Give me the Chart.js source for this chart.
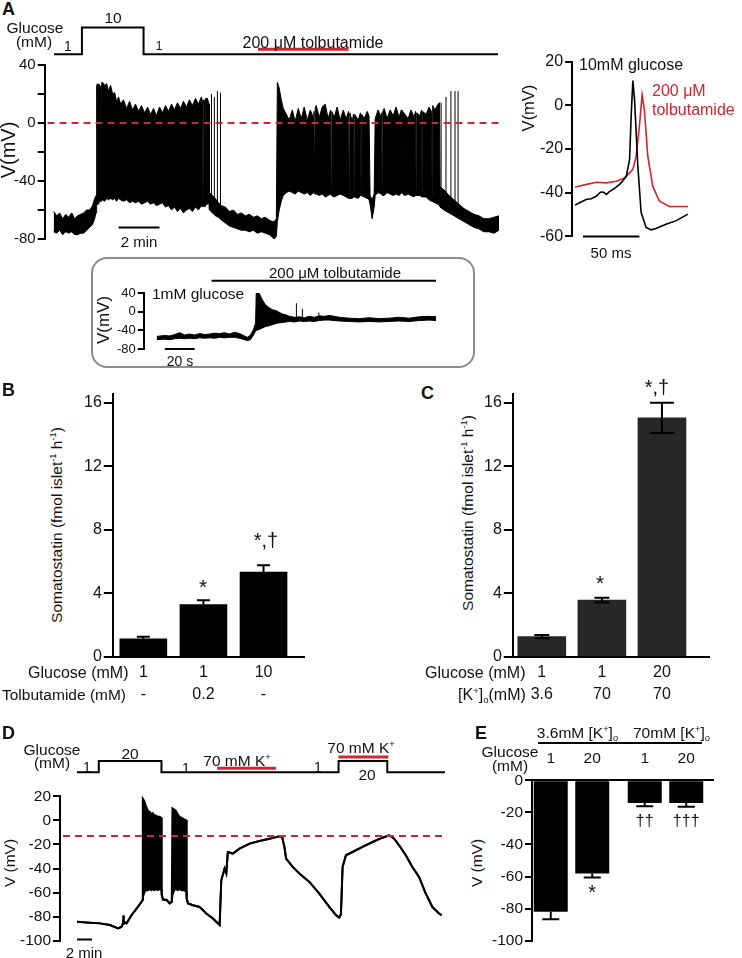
<!DOCTYPE html>
<html><head><meta charset="utf-8">
<script src="https://cdn.jsdelivr.net/npm/chart.js@4.4.1/dist/chart.umd.min.js"></script>
<style>
html,body{margin:0;padding:0;background:#fff;}
body{width:742px;height:958px;position:relative;overflow:hidden;font-family:"Liberation Sans",Arial,sans-serif;color:#111;}
canvas{position:absolute;}
.t{position:absolute;white-space:nowrap;line-height:1;}
sup,sub{font-size:0.6em;line-height:0;position:relative;vertical-align:baseline;}
sup{top:-0.6em;} sub{top:0.3em;}
#box{position:absolute;left:91px;top:257px;width:380px;height:107px;border:2px solid #8c8c8c;border-radius:16px;}
#eline{position:absolute;left:538px;top:742px;width:164px;height:2px;background:#000;}
</style></head><body>
<div id="box"></div>
<div id="eline"></div>
<script>
// ===================== DATA =====================
// Panel A – glucose protocol (time in min, glucose in mM) and tolbutamide application
const A_GLU_T = [0, 1.37, 4.39, 21.76];
const A_GLU_V = [1, 10, 1, 1];
const A_TOLB = [[10.0, 14.44]];
// Panel A – membrane potential envelope (min, mV)
const A_T = [0.00,0.15,0.29,0.44,0.59,0.73,0.88,1.02,1.17,1.32,1.46,1.61,1.76,1.90,2.00,2.07,
 2.10,2.13,2.15,2.17,2.20,2.29,2.32,2.34,2.36,2.39,2.49,2.59,2.68,2.78,2.88,2.98,3.07,3.17,3.27,3.41,3.56,3.71,3.85,4.00,4.15,4.29,4.44,4.59,4.73,4.88,5.02,5.17,5.32,5.46,5.61,5.76,5.90,6.05,6.20,6.34,6.49,6.63,6.78,6.93,7.07,7.22,7.27,7.30,7.33,7.37,7.43,7.45,7.47,7.51,7.59,
 7.61,7.76,7.90,8.05,8.20,8.39,8.59,8.78,8.98,9.17,9.37,9.56,9.76,9.95,10.15,10.34,10.54,10.68,10.78,10.88,
 10.93,11.02,11.12,11.22,11.37,11.51,11.66,11.80,11.95,12.10,12.24,12.39,12.54,12.68,12.72,12.75,12.78,12.83,12.98,13.12,13.27,13.41,13.53,13.56,13.59,13.71,13.85,14.00,14.15,14.29,14.41,14.44,14.47,14.59,14.65,14.68,14.71,14.88,14.99,15.02,15.05,15.17,15.32,15.41,
 15.46,15.56,15.66,
 15.71,15.85,16.00,16.02,16.05,16.08,16.15,16.29,16.44,16.59,16.73,16.88,16.99,17.02,17.05,17.17,17.32,17.46,17.61,17.68,17.71,17.74,17.90,17.97,18.00,18.03,18.20,18.34,18.46,18.49,18.52,18.63,18.78,18.85,
 18.88,19.07,19.32,19.56,19.80,20.05,20.29,20.54,20.78,21.02,21.27,21.51,21.76];
const A_HI = [-61,-64,-62,-66,-63,-65,-62,-66,-64,-63,-62,-60,-60,-57,-52,-50,
 25,27,-52,24,27,24,26,-50,28,28,26,27,22,26,20,21,15,18,13,16,10,15,9,13,8,12,7,11,6,10,5,11,7,12,8,13,9,14,10,15,11,16,12,17,13,18,15,-53,16,15,17,-52,17,17,13,
 -48,-50,-52,-55,-57,-58,-61,-60,-63,-62,-64,-63,-65,-64,-66,-65,-67,-68,-68,-66,
 28,24,16,10,6,2,9,1,10,3,11,2,9,4,8,-45,10,12,4,11,13,3,9,-46,8,4,11,2,9,3,8,-48,7,1,6,-47,6,2,7,-46,6,3,8,5,
 -50,-53,-49,
 3,9,4,7,-45,8,10,3,9,5,11,4,9,-44,8,6,3,9,4,8,-46,7,5,9,-47,8,6,11,8,-50,12,9,13,14,
 -44,-46,-50,-53,-56,-59,-61,-63,-64,-66,-66,-65,-64];
const A_LO = [-75,-76,-74,-77,-75,-76,-75,-77,-77,-76,-76,-74,-72,-70,-66,-62,
 -57,-56,-56,-56,-55,-54,-54,-54,-53,-53,-54,-52,-53,-52,-53,-52,-54,-52,-53,-54,-53,-55,-54,-55,-54,-56,-55,-54,-56,-55,-57,-56,-55,-58,-57,-60,-58,-61,-59,-62,-60,-59,-61,-58,-60,-57,-58,-57,-57,-58,-57,-56,-56,-56,-55,
 -60,-62,-64,-65,-67,-69,-71,-72,-73,-74,-74,-75,-74,-76,-75,-76,-77,-79,-80,-78,
 -68,-60,-54,-50,-48,-47,-48,-49,-47,-48,-49,-48,-50,-48,-48,-49,-49,-49,-50,-49,-51,-50,-49,-50,-50,-51,-50,-49,-50,-51,-52,-52,-52,-52,-51,-51,-51,-52,-50,-50,-50,-51,-52,-53,
 -56,-66,-58,
 -50,-48,-49,-49,-49,-50,-50,-48,-49,-50,-49,-50,-48,-48,-49,-50,-49,-50,-51,-50,-50,-50,-50,-51,-51,-51,-51,-53,-54,-54,-54,-55,-56,-57,
 -58,-60,-62,-64,-66,-68,-70,-72,-73,-75,-75,-76,-74];
const A_SPK_T = [7.71,7.85,8.00,8.15,18.93,19.17,19.41,19.61,19.76];
const A_SPK_V = [20,18,22,21,14,18,22,22,22];
const A_SPK_B = [-58,-60,-62,-63,-56,-58,-60,-62,-63];
const A_BAR = [3.17, 5.17];   // 2 min scale bar

// Panel A inset – single action potentials (ms, mV)
const S_T_BLK = [2.6,7,12.9,17,21.6,25,27.5,30.4,33,36.3,39,42.1,45,48,50.9,52.3,53.8,55.3,58.2,61.1,65.5,69.9,74.3,83.1,91.8,102.6];
const S_V_BLK = [-45.7,-44.5,-43,-42.8,-41.5,-39.8,-39.7,-40.8,-39.5,-38.5,-37.5,-36.2,-34.5,-32.4,-24.8,-5,11.3,2.5,-27.8,-49,-55.9,-57,-56.4,-54.4,-52.9,-49.8];
const S_T_RED = [2.6,12.9,21.6,30.4,39.2,46.5,53.8,56.7,59.6,62,64,67,71.4,77.2,86,102.6];
const S_V_RED = [-37.4,-36.2,-35.2,-35.5,-34.8,-33.3,-29.3,-23.3,-9.6,4.8,-2,-23.3,-37,-43.8,-46.3,-46.3];
const S_BAR = [9.6, 59.6];    // 50 ms scale bar

// Panel A box – 1 mM glucose + tolbutamide (s, mV)
const X_T = [8.7,14,17.3,20.7,24,27.3,30.7,34,37.3,40.7,44,47.3,50.7,54,57.3,60.7,64,67.3,69.3,71.3,73.3,74.7,75.3,77.3,79.3,81.3,84,86,88.7,90.7,92.7,95.3,97.3,100.7,104,107.3,110.7,114,117.3,120.7,124,130.7,137.3,144,150.7,157.3,164,170.7,177.3,184,190.7,195.3];
const X_HI = [-53,-51,-52,-49,-45,-50,-48,-50,-47,-49,-48,-46,-47,-45,-48,-44,-47,-52,-55,-50,-38,-25,60,38,25,15,8,4,2,-2,-5,-7,-10,-12,-11,-13,-10,-12,-9,-10,-8,-12,-14,-15,-13,-15,-14,-12,-14,-11,-10,-11];
const X_LO = [-60,-59,-60,-58,-57,-58,-57,-58,-56,-57,-56,-57,-55,-56,-55,-55,-57,-60,-62,-60,-50,-42,-40,-38,-35,-32,-30,-28,-25,-24,-23,-22,-21,-22,-20,-21,-20,-21,-19,-18,-18,-20,-21,-22,-21,-22,-21,-20,-21,-19,-18,-19];
const X_SPK_T = [102, 106, 117];
const X_SPK_V = [18, 6, -2];
const X_SPK_B = [-20, -20, -19];
const X_TOLB = [45.3, 195.3];
const X_BAR = [14, 34];       // 20 s scale bar

// Panel B – somatostatin secretion
const B_GLU = ['1','1','10'];
const B_TOL = ['-','0.2','-'];
const B_VAL = [1.15, 3.3, 5.35];
const B_ERR = [0.12, 0.27, 0.42];
// Panel C
const C_GLU = ['1','1','20'];
const C_K = ['3.6','70','70'];
const C_VAL = [1.28, 3.58, 15.05];
const C_ERR = [0.1, 0.15, 0.95];

// Panel D – glucose protocol, 70 mM K+ application, membrane potential (min, mV)
const D_GLU_T = [0, 2.93, 11.33, 35.07, 41.6, 49.33];
const D_GLU_V = [1, 20, 1, 20, 1, 1];
const D_K = [[18.8, 26.67], [35.07, 41.73]];
const D_T = [0,1.73,3.07,4.4,5.51,5.96,6.13,6.2,6.27,6.63,7.29,7.96,8.63,8.78,8.8,9.0,9.2,9.47,9.73,9.93,10.13,10.33,10.53,10.8,11.07,11.29,11.33,11.51,11.96,12.4,12.67,12.76,13.0,13.2,13.47,13.73,14.0,14.27,14.6,14.67,14.84,15.51,16.4,17.29,18.17,19.07,19.29,19.73,19.96,20.17,20.84,21.73,23.07,24.4,25.73,27.07,27.43,27.73,27.96,28.84,29.73,31.07,32.4,33.73,34.63,35.07,35.29,35.51,35.96,36.84,38.17,39.51,40.84,41.73,42.4,43.07,43.96,44.84,45.73,46.63,47.51,48.4,48.76];
const D_HI = [-84.3,-85,-85.6,-87,-89.8,-88.4,-86,-79,-84,-85.6,-78.8,-73.3,-67.7,-66,18,16,12,8,7,5,6,4,4,3,3,2,-62,-66,-66,-69,-67.7,10,9,8,5,3,2,1,0,-65,-69,-70.5,-72,-77.4,-81.5,-87,-49.8,-40,-44,-26.3,-27.6,-23.5,-19.3,-17.1,-15.2,-13.3,-13.8,-22,-31.8,-38.7,-44.2,-51.1,-60.8,-71.9,-78.8,-80.7,-78,-38.7,-29,-26.3,-22,-18,-14.4,-12.4,-15.2,-20.7,-29,-38.7,-47,-60.8,-71.9,-77.4,-78.8];
const D_LO = [-84.3,-85,-85.6,-87,-89.8,-88.4,-86,-86,-84,-85.6,-78.8,-73.3,-67.7,-66,-64,-60,-58,-58,-57,-58,-57,-58,-57,-58,-57,-58,-62,-66,-66,-69,-67.7,-62,-58,-57,-58,-57,-58,-58,-59,-65,-69,-70.5,-72,-77.4,-81.5,-87,-49.8,-40,-44,-26.3,-27.6,-23.5,-19.3,-17.1,-15.2,-13.3,-13.8,-22,-31.8,-38.7,-44.2,-51.1,-60.8,-71.9,-78.8,-80.7,-78,-38.7,-29,-26.3,-22,-18,-14.4,-12.4,-15.2,-20.7,-29,-38.7,-47,-60.8,-71.9,-77.4,-78.8];
const D_BAR = [0, 2];         // 2 min scale bar
const D_REF = -13;            // dashed reference level (mV)

// Panel E – membrane potential summary
const E_GROUPS = ['3.6mM [K<sup>+</sup>]<sub>o</sub>', '70mM [K<sup>+</sup>]<sub>o</sub>'];
const E_GLU = ['1', '20'];
const E_G1 = [-82, -14.1];
const E_G1_ERR = [4.6, 2.1];
const E_G20 = [-58.1, -14.1];
const E_G20_ERR = [2.5, 2.4];
const E_SIG = [['', '††'], ['*', '†††']];

// ===================== HELPERS =====================
const RED = '#d0262d';
Chart.defaults.font.family = '"Liberation Sans", Arial, sans-serif';
Chart.defaults.color = '#000';

function mount(area, cfg) {
  const c = document.createElement('canvas');
  const w0 = Math.round(area.r - area.l + 120), h0 = Math.round(area.b - area.t + 120);
  c.width = w0; c.height = h0; c.style.width = w0 + 'px'; c.style.height = h0 + 'px';
  c.style.left = '0px'; c.style.top = '0px';
  document.body.appendChild(c);
  cfg.options = Object.assign({responsive:false, maintainAspectRatio:false, animation:false, devicePixelRatio:1, events:[],
    elements:{point:{radius:0}, line:{tension:0}}}, cfg.options || {});
  cfg.options.plugins = Object.assign({legend:{display:false}, tooltip:{enabled:false}}, cfg.options.plugins || {});
  const ch = new Chart(c, cfg);
  let ca = ch.chartArea;
  const W = Math.round(area.r - area.l + ca.left + (w0 - ca.right));
  const H = Math.round(area.b - area.t + ca.top + (h0 - ca.bottom));
  ch.resize(W, H);
  ca = ch.chartArea;
  const ox = area.l - ca.left, oy = area.t - ca.top;
  c.style.left = ox + 'px'; c.style.top = oy + 'px';
  ch._off = {x: ox, y: oy};
  return ch;
}
const pts = (T, V) => T.map((t, i) => ({x: t, y: V[i]}));
function band(T, HI, LO, w) {
  return [
    {data: pts(T, HI), borderColor:'#000', borderWidth:w, backgroundColor:'#000', fill:'+1', pointRadius:0},
    {data: pts(T, LO), borderColor:'#000', borderWidth:w, fill:false, pointRadius:0}
  ];
}
function spikes(T, V, B, w) {
  const d = [];
  T.forEach((t, i) => { d.push({x:t, y:B[i]}, {x:t, y:V[i]}, {x:t, y:null}); });
  return {data:d, borderColor:'#000', borderWidth:w, fill:false, pointRadius:0, spanGaps:false};
}
function hbar(range, level, color, w) {
  return {data:[{x:range[0], y:level}, {x:range[1], y:level}], borderColor:color, borderWidth:w, pointRadius:0, fill:false, clip:false};
}
function hidden(min, max) { return {type:'linear', min, max, display:false}; }
function yAx(min, max, ticks, o = {}) {
  return {type:'linear', min, max,
    afterBuildTicks: s => { s.ticks = ticks.map(v => ({value:v})); },
    grid:{drawOnChartArea:false, drawTicks:true, tickLength:o.tl || 7, color:'#000', lineWidth:2},
    border:{display:true, color:'#000', width:2},
    ticks:{padding:o.pad ?? 2, color:'#111', font:{size:o.fs || 15}, autoSkip:false,
      callback: v => (o.every && (v % o.every) !== 0) ? '' : String(v)}};
}
function xBar(min, max, ticks, cb, pos) {
  return {type:'linear', min, max, offset:false, position:pos || 'bottom',
    afterBuildTicks: s => { s.ticks = ticks.map(v => ({value:v})); },
    grid:{display:false, drawTicks:false},
    border:{display:true, color:'#000', width:2},
    ticks:{display:!!cb, autoSkip:false, maxRotation:0, minRotation:0, padding:5, color:'#111',
      font:{size:16, lineHeight:1.375}, callback: cb || (() => '')}};
}
function expo(bars, T, V, color, width, offset) {
  return {id:'expo', afterDatasetsDraw(chart) {
    const ctx = chart.ctx, xs = chart.scales.x, ys = chart.scales.y;
    ctx.save(); ctx.strokeStyle = color; ctx.lineWidth = width;
    bars.forEach(([a, b]) => {
      const mid = (a + b) / 2; let lvl = V[0];
      for (let i = 0; i < T.length; i++) if (T[i] <= mid) lvl = V[i];
      const y = ys.getPixelForValue(lvl) - offset;
      ctx.beginPath(); ctx.moveTo(xs.getPixelForValue(a), y); ctx.lineTo(xs.getPixelForValue(b), y); ctx.stroke();
    });
    ctx.restore();
  }};
}
function errb(sets, caps, width) {
  return {id:'errb', afterDatasetsDraw(chart) {
    const ctx = chart.ctx, ys = chart.scales.y;
    ctx.save(); ctx.strokeStyle = '#000'; ctx.lineWidth = width;
    sets.forEach(s => {
      const meta = chart.getDatasetMeta(s.ds), data = chart.data.datasets[s.ds].data;
      meta.data.forEach((el, i) => {
        const v = data[i].y, e = s.err[i], x = el.x, h = caps[i] / 2;
        const ends = s.both ? [v - e, v + e] : [v, v + Math.sign(v) * e];
        const y0 = ys.getPixelForValue(ends[0]), y1 = ys.getPixelForValue(ends[1]);
        ctx.beginPath(); ctx.moveTo(x, y0); ctx.lineTo(x, y1);
        if (s.both) { ctx.moveTo(x - h, y0); ctx.lineTo(x + h, y0); }
        ctx.moveTo(x - h, y1); ctx.lineTo(x + h, y1); ctx.stroke();
      });
    });
    ctx.restore();
  }};
}
function T(x, y, html, o = {}) {
  const d = document.createElement('div');
  d.className = 't'; d.innerHTML = html;
  d.style.left = x + 'px'; d.style.top = y + 'px';
  d.style.fontSize = (o.fs || 15) + 'px';
  if (o.bold) d.style.fontWeight = 'bold';
  if (o.color) d.style.color = o.color;
  let tr = o.left ? 'translate(0,-50%)' : 'translate(-50%,-50%)';
  if (o.rot) tr += ' rotate(-90deg)';
  d.style.transform = tr;
  document.body.appendChild(d);
}

// ===================== PANEL A =====================
mount({l:45, r:500, t:20, b:60}, {type:'line',
  data:{datasets:[{data:pts(A_GLU_T, A_GLU_V), stepped:true, borderColor:'#000', borderWidth:2, clip:false}]},
  options:{scales:{x:hidden(-0.44, 21.76), y:hidden(-0.29, 12.57)}},
  plugins:[expo(A_TOLB, A_GLU_T, A_GLU_V, RED, 3, 5)]});

mount({l:45, r:500, t:65, b:239}, {type:'line',
  data:{datasets:[
    {data:[{x:-0.3, y:0}, {x:21.76, y:0}], borderColor:RED, borderDash:[7,5], borderWidth:2, fill:false},
    ...band(A_T, A_HI, A_LO, 1),
    spikes(A_SPK_T, A_SPK_V, A_SPK_B, 1),
    hbar(A_BAR, -72, '#000', 2)
  ]},
  options:{scales:{x:hidden(-0.44, 21.76), y:yAx(-80, 40, [-80,-60,-40,-20,0,20,40], {every:40, fs:15})}}});

mount({l:572, r:692, t:62, b:237}, {type:'line',
  data:{datasets:[
    {data:pts(S_T_BLK, S_V_BLK), borderColor:'#000', borderWidth:1.6, fill:false},
    {data:pts(S_T_RED, S_V_RED), borderColor:RED, borderWidth:1.6, fill:false},
    hbar(S_BAR, -60, '#000', 2)
  ]},
  options:{scales:{x:hidden(0, 105.3), y:yAx(-60, 20, [-60,-40,-20,0,20], {fs:16})}}});

mount({l:144, r:440, t:293, b:349}, {type:'line',
  data:{datasets:[
    hbar(X_TOLB, 66, '#000', 2),
    ...band(X_T, X_HI, X_LO, 1),
    spikes(X_SPK_T, X_SPK_V, X_SPK_B, 1),
    hbar(X_BAR, -80, '#000', 2)
  ]},
  options:{layout:{padding:{top:24, bottom:10}},
    scales:{x:hidden(0, 197.3), y:yAx(-80, 40, [-80,-40,0,40], {fs:13, tl:6})}}});

// ===================== PANEL B / C =====================
mount({l:113, r:305, t:393.5, b:657}, {type:'bar',
  data:{datasets:[{data:B_VAL.map((v, i) => ({x:i + 1, y:v})), backgroundColor:'#000', barThickness:47}]},
  options:{scales:{x:xBar(0.492, 3.69, [1,2,3], (v, i) => [B_GLU[i], B_TOL[i]]),
                   y:yAx(0, 16.58, [0,4,8,12,16], {fs:16, tl:9})}},
  plugins:[errb([{ds:0, err:B_ERR}], [13,13,13], 2)]});

mount({l:513, r:710, t:393.5, b:657}, {type:'bar',
  data:{datasets:[{data:C_VAL.map((v, i) => ({x:i + 1, y:v})), backgroundColor:'#272727', barThickness:48}]},
  options:{scales:{x:xBar(0.517, 3.8, [1,2,3], (v, i) => [C_GLU[i], C_K[i]]),
                   y:yAx(0, 16.58, [0,4,8,12,16], {fs:16, tl:9})}},
  plugins:[errb([{ds:0, err:C_ERR, both:true}], [15,15,24], 2)]});

// ===================== PANEL D =====================
mount({l:60, r:448, t:745, b:780}, {type:'line',
  data:{datasets:[{data:pts(D_GLU_T, D_GLU_V), stepped:true, borderColor:'#000', borderWidth:2, clip:false}]},
  options:{scales:{x:hidden(-2.27, 49.47), y:hidden(-8.5, 46.9)}},
  plugins:[expo(D_K, D_GLU_T, D_GLU_V, RED, 3, 4)]});

mount({l:60, r:448, t:796, b:940.7}, {type:'line',
  data:{datasets:[
    {data:[{x:-1.87, y:D_REF}, {x:49.4, y:D_REF}], borderColor:RED, borderDash:[7,5], borderWidth:2, fill:false},
    ...band(D_T, D_HI, D_LO, 2),
    hbar(D_BAR, -99, '#000', 2)
  ]},
  options:{scales:{x:hidden(-2.27, 49.47), y:yAx(-100, 20, [-100,-80,-60,-40,-20,0,20], {fs:15.5})}}});

// ===================== PANEL E =====================
const eCh = mount({l:532, r:714, t:780, b:940.7}, {type:'bar',
  data:{datasets:[
    {data:E_G1.map((v, i) => ({x:i + 1, y:v})), backgroundColor:'#000', categoryPercentage:0.883, barPercentage:0.819},
    {data:E_G20.map((v, i) => ({x:i + 1, y:v})), backgroundColor:'#000', categoryPercentage:0.883, barPercentage:0.819}
  ]},
  options:{scales:{x:xBar(0.58, 2.516, [1,2], null, 'top'), y:yAx(-100, 0, [-100,-80,-60,-40,-20,0], {fs:15.5})}},
  plugins:[errb([{ds:0, err:E_G1_ERR}, {ds:1, err:E_G20_ERR}], [17,17], 2)]});

// ===================== TEXT =====================
// A
T(2, 9, 'A', {left:true, bold:true, fs:18});
T(35, 28, 'Glucose', {fs:15.5}); T(34, 42, '(mM)', {fs:15.5});
T(68, 46, '1', {fs:14}); T(113, 18, '10', {fs:15.5}); T(159, 46, '1', {fs:12});
T(313, 43, '200 μM tolbutamide', {fs:16});
T(8, 150, 'V(mV)', {rot:true, fs:20});
T(139, 241, '2 min', {fs:15});
T(579, 65, '10mM glucose', {left:true, fs:16});
T(652, 91, '200 μM', {left:true, fs:16, color:RED});
T(652, 110, 'tolbutamide', {left:true, fs:16, color:RED});
T(528, 108, 'V(mV)', {rot:true, fs:16.5});
T(611, 252, '50 ms', {fs:15});
T(103, 320, 'V(mV)', {rot:true, fs:17});
T(152, 294, '1mM glucose', {left:true, fs:15.5});
T(335, 272, '200 μM tolbutamide', {fs:15});
T(180, 361, '20 s', {fs:14});
// B
T(2, 390, 'B', {left:true, bold:true, fs:18});
T(57, 525, 'Somatostatin (fmol islet<sup>-1</sup> h<sup>-1</sup>)', {rot:true, fs:15.5});
T(203, 586, '*', {fs:21}); T(266, 540, '*,†', {fs:20});
T(28, 673, 'Glucose (mM)', {left:true, fs:16});
T(2, 695, 'Tolbutamide (mM)', {left:true, fs:15.5});
// C
T(421, 393, 'C', {left:true, bold:true, fs:18});
T(468, 513, 'Somatostatin (fmol islet<sup>-1</sup> h<sup>-1</sup>)', {rot:true, fs:15.5});
T(600, 582, '*', {fs:21}); T(657, 387, '*,†', {fs:20});
T(425, 673, 'Glucose (mM)', {left:true, fs:16});
T(458, 695, '[K<sup>+</sup>]<sub>o</sub>(mM)', {left:true, fs:16});
// D
T(2, 733, 'D', {left:true, bold:true, fs:18});
T(52, 750, 'Glucose', {fs:15.5}); T(52, 763, '(mM)', {fs:15.5});
T(87, 766, '1', {fs:15}); T(130, 754, '20', {fs:15.5}); T(186, 767, '1', {fs:15});
T(237, 761, '70 mM K<sup>+</sup>', {fs:15.5});
T(318, 766, '1', {fs:15});
T(361, 748, '70 mM K<sup>+</sup>', {fs:15.5});
T(367, 775, '20', {fs:15.5});
T(10, 863, 'V (mV)', {rot:true, fs:15.5});
T(84, 952, '2 min', {fs:15});
// E
T(475, 733, 'E', {left:true, bold:true, fs:18});
T(510, 752, 'Glucose', {fs:15.5}); T(510, 766, '(mM)', {fs:15.5});
T(477, 863, 'V (mV)', {rot:true, fs:15.5});
(function () {
  const xs = eCh.scales.x, ys = eCh.scales.y, o = eCh._off;
  E_GROUPS.forEach((g, i) => T(o.x + xs.getPixelForValue(i + 1) + 6, 733, g, {fs:15.5}));
  [[E_G1, E_G1_ERR], [E_G20, E_G20_ERR]].forEach(([vals, errs], d) => {
    const meta = eCh.getDatasetMeta(d);
    meta.data.forEach((el, i) => {
      T(o.x + el.x, 758, E_GLU[d], {fs:15.5});
      if (E_SIG[d][i]) T(o.x + el.x, o.y + ys.getPixelForValue(vals[i] - errs[i]) + 15, E_SIG[d][i], {fs: E_SIG[d][i] === '*' ? 20 : 16});
    });
  });
})();
</script>
</body></html>
